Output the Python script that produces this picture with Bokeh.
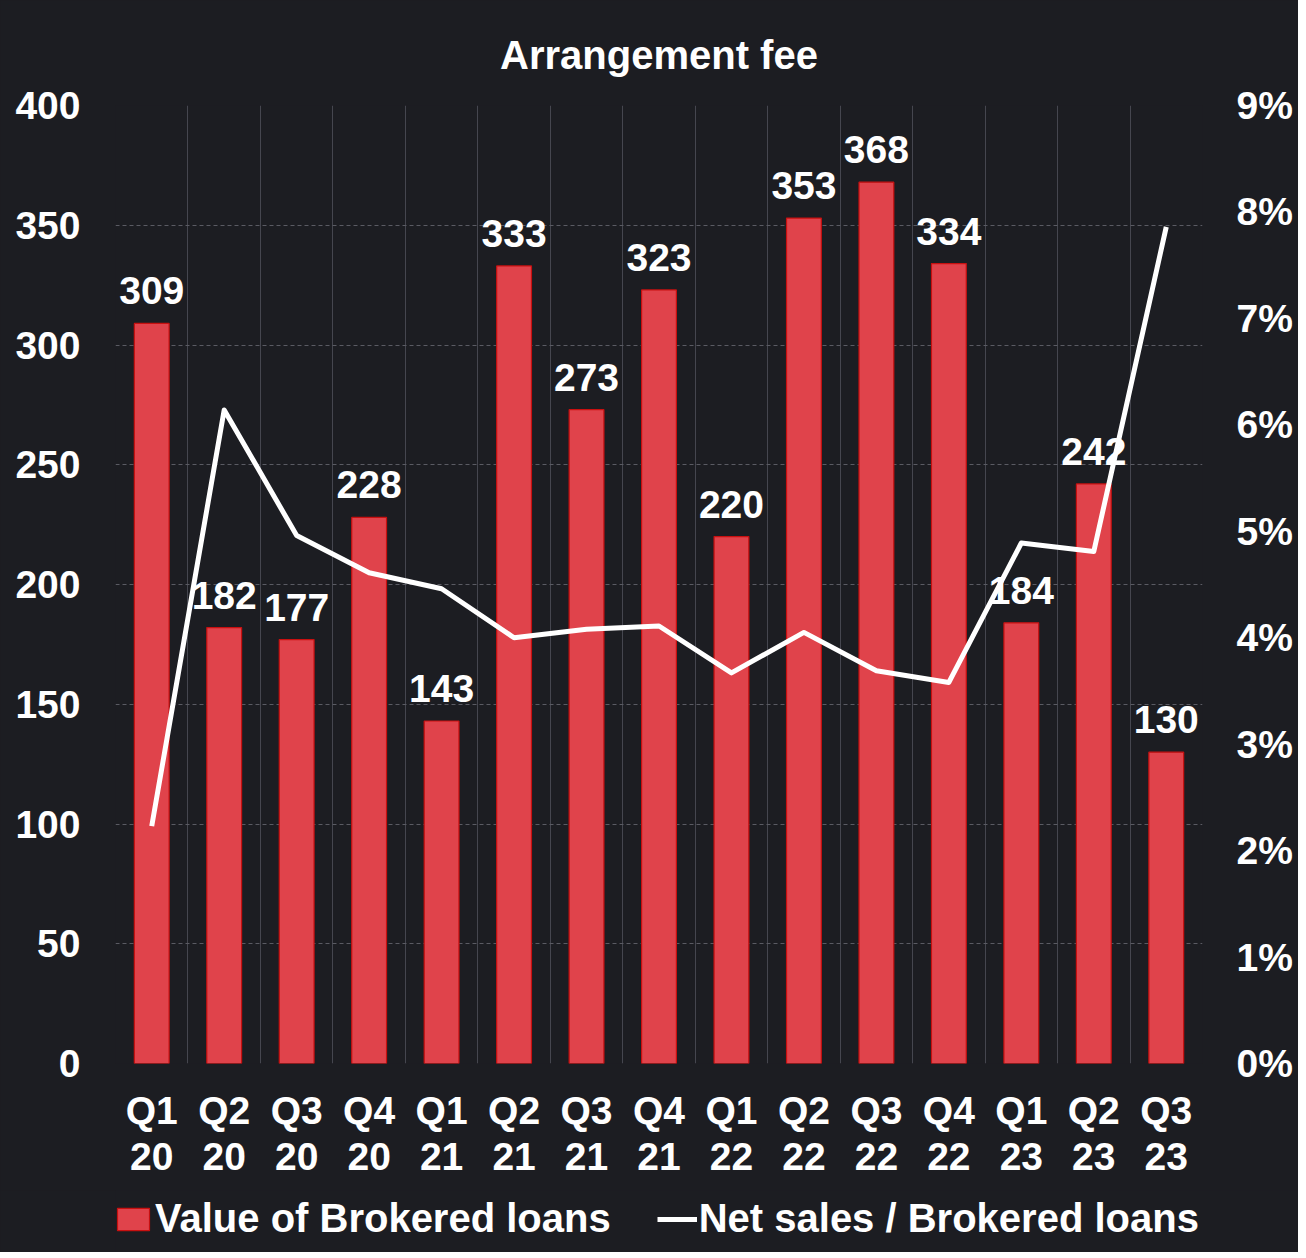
import numpy as np
from bokeh.plotting import figure
from bokeh.layouts import column
from bokeh.models import (ColumnDataSource, Range1d, LinearAxis, FixedTicker,
                          NumeralTickFormatter, Legend, LegendItem, LabelSet)
from bokeh.core.properties import value
from bokeh.embed import file_html
from bokeh.resources import INLINE

quarters = ["Q1 20", "Q2 20", "Q3 20", "Q4 20", "Q1 21", "Q2 21", "Q3 21", "Q4 21",
            "Q1 22", "Q2 22", "Q3 22", "Q4 22", "Q1 23", "Q2 23", "Q3 23"]
brokered_loans = [309, 182, 177, 228, 143, 333, 273, 323, 220, 353, 368, 334, 184, 242, 130]
net_sales_ratio = [2.23, 6.14, 4.96, 4.61, 4.46, 4.00, 4.08, 4.11, 3.67, 4.05, 3.69, 3.58, 4.89, 4.81, 7.86]
left_ticks = [0, 50, 100, 150, 200, 250, 300, 350, 400]
right_ticks = [0, 1, 2, 3, 4, 5, 6, 7, 8, 9]

BG = "#1c1d22"
RED = "#e0434b"
RED_EDGE = "#c81010"
FONT = "Liberation Sans"
FS = "39px"

n = len(quarters)
xpos = np.arange(n) + 0.5
src = ColumnDataSource(dict(
    x=xpos, q=quarters, v=brokered_loans,
    lab=[str(v) for v in brokered_loans],
    r=[r / 100 for r in net_sales_ratio],
))

p = figure(frame_width=1087, frame_height=958, output_backend="svg", toolbar_location=None,
           x_range=Range1d(0, n), y_range=Range1d(0, 400),
           background_fill_color=BG, border_fill_color=BG,
           min_border_left=115, min_border_right=96, min_border_top=105, min_border_bottom=127)
p.outline_line_color = None

p.title.text = "Arrangement fee"
p.title.text_color = "white"
p.title.text_font = FONT
p.title.text_font_size = "40px"
p.title.text_font_style = "bold"
p.title.align = "center"
p.title.standoff = 58

p.extra_y_ranges = {"pct": Range1d(0, 0.09)}

bars = p.vbar(x="x", top="v", width=0.48, source=src, fill_color=RED,
              line_color=RED_EDGE, line_width=1.2)
line = p.line(x="x", y="r", source=src, y_range_name="pct", line_color="white",
              line_width=5, line_join="round")

labels = LabelSet(x="x", y="v", text="lab", source=src, text_align="center",
                  text_baseline="bottom", y_offset=19, text_color="white",
                  text_font=value(FONT), text_font_size=value(FS), text_font_style="bold")
p.add_layout(labels)

# axes: quarter on first row, year on second row
xa = p.xaxis[0]
xa.ticker = FixedTicker(ticks=list(xpos))
xa.major_label_overrides = {float(x): q.split(" ")[0] for x, q in zip(xpos, quarters)}
xa2 = LinearAxis(ticker=FixedTicker(ticks=list(xpos)))
xa2.major_label_overrides = {float(x): q.split(" ")[1] for x, q in zip(xpos, quarters)}
p.add_layout(xa2, "below")

yl = p.yaxis[0]
yl.ticker = FixedTicker(ticks=left_ticks)

ra = LinearAxis(y_range_name="pct", ticker=FixedTicker(ticks=[t / 100 for t in right_ticks]),
                formatter=NumeralTickFormatter(format="0%"))
p.add_layout(ra, "right")

for ax in [xa, xa2, yl, ra]:
    ax.axis_line_color = None
    ax.major_tick_line_color = None
    ax.minor_tick_line_color = None
    ax.major_tick_out = 0
    ax.major_tick_in = 0
    ax.minor_tick_out = 0
    ax.minor_tick_in = 0
    ax.major_label_text_color = "white"
    ax.major_label_text_font = FONT
    ax.major_label_text_font_size = FS
    ax.major_label_text_font_style = "bold"
xa.major_label_standoff = 25
xa2.major_label_standoff = 8
yl.major_label_standoff = 35
ra.major_label_standoff = 34

# grids
p.xgrid.ticker = FixedTicker(ticks=list(range(n + 1)))
p.xgrid.grid_line_color = "#45464f"
p.xgrid.grid_line_width = 1
p.ygrid.ticker = FixedTicker(ticks=left_ticks)
p.ygrid.grid_line_color = "#5a5b63"
p.ygrid.grid_line_dash = "4 3"
p.ygrid.grid_line_width = 1

# legend strip below the chart; its keys reuse the series (ranges keep them out of view)
pl = figure(frame_width=1298, frame_height=62, output_backend="svg", toolbar_location=None,
            x_axis_type=None, y_axis_type=None,
            x_range=Range1d(-100, -99), y_range=Range1d(-2, -1),
            background_fill_color=BG, border_fill_color=BG,
            min_border_left=0, min_border_right=0, min_border_top=0, min_border_bottom=0)
pl.outline_line_color = None
pl.xgrid.visible = False
pl.ygrid.visible = False
kb = pl.vbar(x="x", top="v", width=0.48, source=src, fill_color=RED,
             line_color=RED_EDGE, line_width=1.2)
kl = pl.line(x="x", y="r", source=src, line_color="white", line_width=5)

legend = Legend(items=[LegendItem(label="Value of Brokered loans", renderers=[kb]),
                       LegendItem(label="Net sales / Brokered loans", renderers=[kl])],
                orientation="horizontal", location=(113, 11),
                background_fill_alpha=0, border_line_color=None,
                label_text_color="white", label_text_font=FONT,
                label_text_font_size="40px", label_text_font_style="bold",
                label_height=30,
                glyph_width=40, glyph_height=28, spacing=46, label_standoff=2,
                padding=0, margin=0)
pl.add_layout(legend, "center")

layout = column(p, pl, spacing=0, styles={"background-color": BG})
open("out.html", "w").write(file_html(layout, INLINE))
